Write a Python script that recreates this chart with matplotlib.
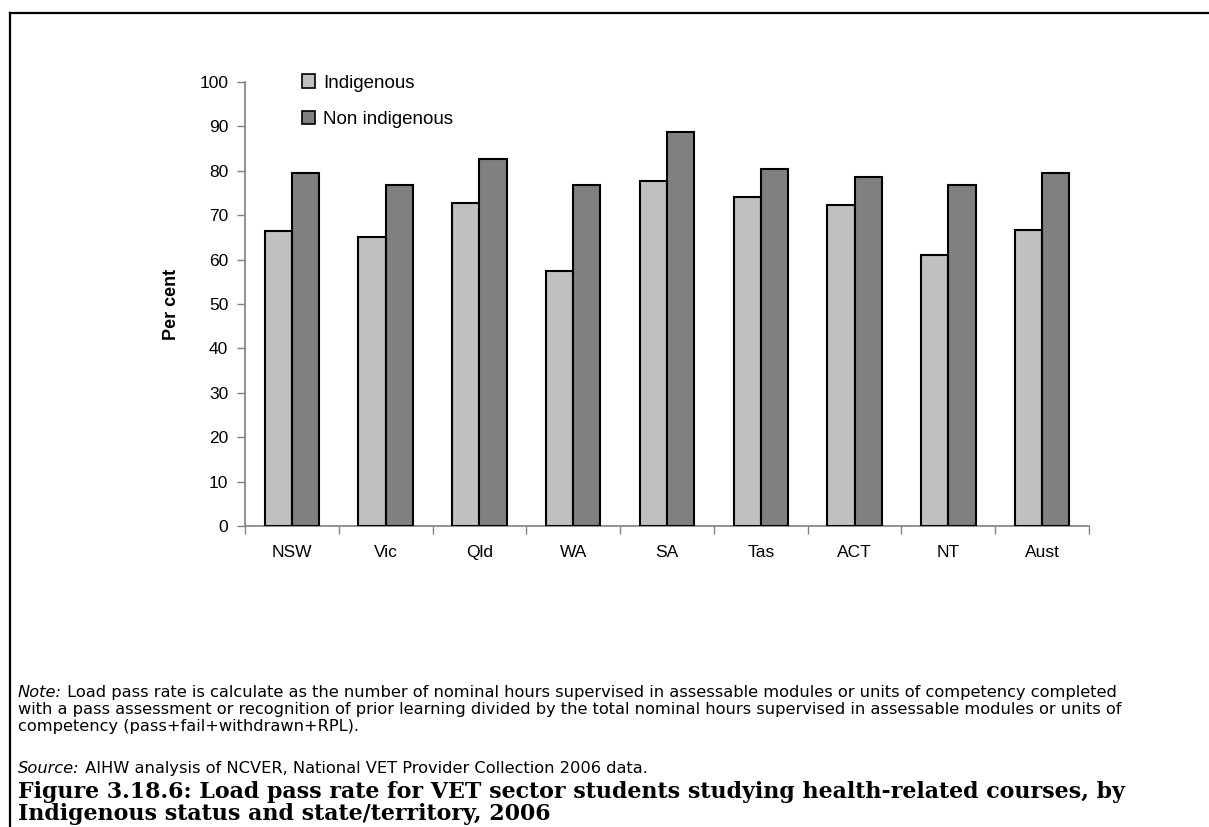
import numpy as np
import matplotlib.pyplot as plt
from matplotlib.lines import Line2D

# data
states = ['NSW', 'Vic', 'Qld', 'WA', 'SA', 'Tas', 'ACT', 'NT', 'Aust']
indigenous = [66.5, 65.2, 72.8, 57.5, 77.7, 74.1, 72.3, 61.1, 66.6]
non_indigenous = [79.5, 76.9, 82.6, 76.9, 88.8, 80.4, 78.7, 76.9, 79.5]
yticks = list(range(0, 101, 10))

note_lines = ['Load pass rate is calculate as the number of nominal hours supervised in assessable modules or units of competency completed',
              'with a pass assessment or recognition of prior learning divided by the total nominal hours supervised in assessable modules or units of',
              'competency (pass+fail+withdrawn+RPL).']
source = 'AIHW analysis of NCVER, National VET Provider Collection 2006 data.'
title_lines = ['Figure 3.18.6: Load pass rate for VET sector students studying health-related courses, by',
               'Indigenous status and state/territory, 2006']

plt.rcParams['font.family'] = ['Liberation Sans', 'DejaVu Sans']

W, H = 1209, 827
fig = plt.figure(figsize=(W / 100, H / 100), dpi=100)
ax = fig.add_axes([245 / W, 1 - 526 / H, (1089 - 245) / W, (526 - 82) / H])

x = np.arange(len(states)) + 0.5
bw = 0.29
ax.bar(x - bw / 2, indigenous, bw, color='#c0c0c0', edgecolor='black', linewidth=1.5, label='Indigenous', zorder=3)
ax.bar(x + bw / 2, non_indigenous, bw, color='#808080', edgecolor='black', linewidth=1.5, label='Non indigenous', zorder=3)

ax.set_xlim(0, len(states))
ax.set_ylim(0, 100)
ax.set_yticks(yticks)
ax.set_xticks(np.arange(len(states) + 1))
ax.set_xticklabels([])
ax.set_xticks(x, minor=True)
ax.set_xticklabels(states, minor=True)
ax.tick_params(axis='x', which='minor', length=0, pad=14, labelsize=12.5)
ax.tick_params(axis='x', which='major', length=6, width=1, color='#808080', direction='out')
ax.tick_params(axis='y', length=6, width=1, color='#808080', direction='out', labelsize=12.5, pad=6)

for s in ['top', 'right']:
    ax.spines[s].set_visible(False)
for s in ['left', 'bottom']:
    ax.spines[s].set_color('#808080')
    ax.spines[s].set_linewidth(1.2)

ax.set_ylabel('Per cent', fontsize=13, fontweight='bold', labelpad=14)

leg = ax.legend(loc='upper left', bbox_to_anchor=(0.047, 1.055), frameon=False, fontsize=13.5,
                handlelength=0.7, handleheight=0.7, handletextpad=0.45, labelspacing=1.05)
for p in leg.get_patches():
    p.set_linewidth(1.2)

# ---- notes and title, sized to the widths seen in the reference ----
r = fig.canvas.get_renderer()

def width(t):
    return t.get_window_extent(r).width

def fy(py):
    return 1 - py / H

nfam = 'DejaVu Sans'
note_lab = fig.text(18 / W, fy(697), 'Note:', fontsize=10, style='italic', family=nfam, va='baseline')
note_body = fig.text(0, fy(697), ' ' + note_lines[0], fontsize=10, family=nfam, va='baseline')
scale = (1185 - 18) / (width(note_lab) + width(note_body))
ns = 10 * scale * 0.94
note_lab.set_fontsize(ns)
note_body.set_fontsize(ns)
note_body.set_x((18 + width(note_lab)) / W)
fig.text(18 / W, fy(714), note_lines[1], fontsize=ns, family=nfam, va='baseline')
fig.text(18 / W, fy(731), note_lines[2], fontsize=ns, family=nfam, va='baseline')

src_lab = fig.text(18 / W, fy(773), 'Source:', fontsize=ns, style='italic', family=nfam, va='baseline')
fig.text((18 + width(src_lab)) / W, fy(773), ' ' + source, fontsize=ns, family=nfam, va='baseline')

tfam = 'DejaVu Serif'
t1 = fig.text(18 / W, fy(798), title_lines[0], fontsize=15, fontweight='bold', family=tfam, va='baseline')
ts = 15 * (1128 - 18) / width(t1)
t1.set_fontsize(ts)
fig.text(18 / W, fy(820), title_lines[1], fontsize=ts, fontweight='bold', family=tfam, va='baseline')

# frame lines on the left and top
fig.add_artist(Line2D([10 / W, 10 / W], [0, 1 - 13 / H], color='black', lw=1.6, transform=fig.transFigure))
fig.add_artist(Line2D([10 / W, 1], [1 - 13 / H, 1 - 13 / H], color='black', lw=1.6, transform=fig.transFigure))

fig.savefig('out.png', dpi=100)
